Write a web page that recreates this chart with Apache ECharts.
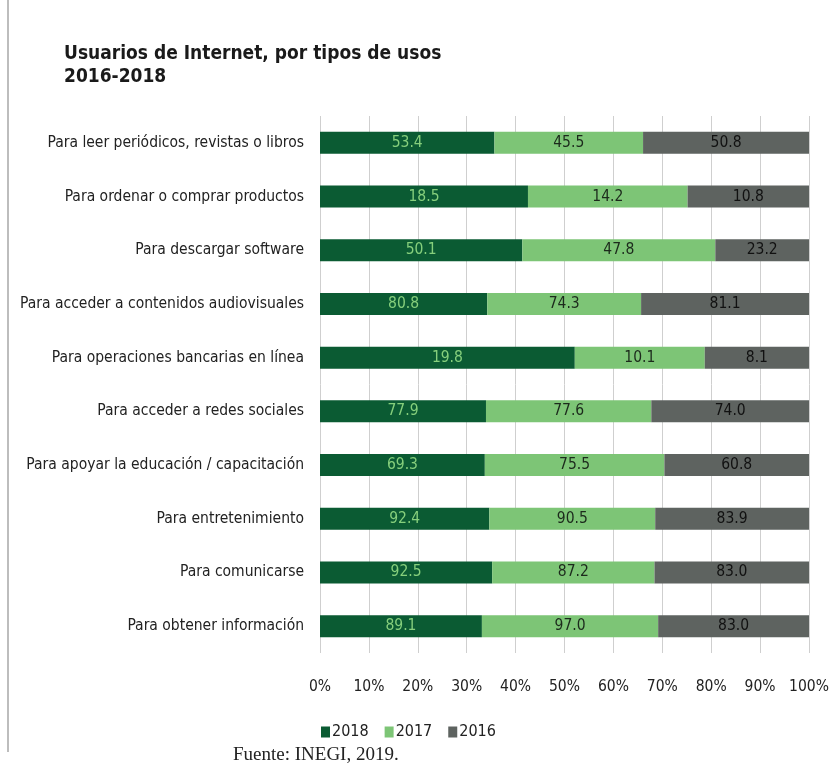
<!DOCTYPE html>
<html>
<head>
<meta charset="utf-8">
<script src="https://cdn.jsdelivr.net/npm/echarts@6/dist/echarts.min.js"></script>
<style>
  html, body { margin: 0; padding: 0; background: #fff; }
  #chart { width: 833px; height: 773px; }
</style>
</head>
<body>
<div id="chart"></div>
<script>
const categories = [
  "Para leer periódicos, revistas o libros",
  "Para ordenar o comprar productos",
  "Para descargar software",
  "Para acceder a contenidos audiovisuales",
  "Para operaciones bancarias en línea",
  "Para acceder a redes sociales",
  "Para apoyar la educación / capacitación",
  "Para entretenimiento",
  "Para comunicarse",
  "Para obtener información"
];
const years = ["2018", "2017", "2016"];
const v2018 = [53.4, 18.5, 50.1, 80.8, 19.8, 77.9, 69.3, 92.4, 92.5, 89.1];
const v2017 = [45.5, 14.2, 47.8, 74.3, 10.1, 77.6, 75.5, 90.5, 87.2, 97.0];
const v2016 = [50.8, 10.8, 23.2, 81.1, 8.1, 74.0, 60.8, 83.9, 83.0, 83.0];
const xTicks = ["0%", "10%", "20%", "30%", "40%", "50%", "60%", "70%", "80%", "90%", "100%"];

const FONT = "'Liberation Sans Narrow', 'DejaVu Sans Condensed', sans-serif";
const colors = ["#0b5b33", "#7dc576", "#5e6360"];
const labelColors = ["#86cf7c", "#1c2a1c", "#111"];
const raw = [v2018, v2017, v2016];
const totals = categories.map((_, i) => v2018[i] + v2017[i] + v2016[i]);

const chart = echarts.init(document.getElementById("chart"));
chart.setOption({
  animation: false,
  title: {
    text: "Usuarios de Internet, por tipos de usos\n2016-2018",
    left: 59,
    top: 38,
    textStyle: { fontFamily: FONT, fontSize: 19, fontWeight: "bold", color: "#1a1a1a", lineHeight: 23 }
  },
  grid: { left: 320, right: 24, top: 116, bottom: 120 },
  legend: {
    data: years,
    bottom: 28,
    left: 316,
    itemWidth: 9,
    itemHeight: 11,
    itemGap: 16,
    icon: "rect",
    textStyle: { fontFamily: FONT, fontSize: 16, color: "#222", padding: [0, 0, 0, -3] }
  },
  xAxis: {
    type: "value",
    min: 0,
    max: 100,
    interval: 10,
    axisLine: { show: false },
    axisTick: { show: false },
    splitLine: { show: true, lineStyle: { color: "#cfcfcf", width: 1 } },
    axisLabel: {
      fontFamily: FONT, fontSize: 15.5, color: "#222", margin: 26,
      formatter: (v) => xTicks[Math.round(v / 10)]
    }
  },
  yAxis: {
    type: "category",
    data: categories,
    inverse: true,
    axisLine: { show: false },
    axisTick: { show: false },
    axisLabel: { fontFamily: FONT, fontSize: 15.5, color: "#222", margin: 16 }
  },
  graphic: [
    { type: "line", shape: { x1: 8, y1: 0, x2: 8, y2: 752 }, style: { stroke: "#bdbdbd", lineWidth: 2 } },
    {
      type: "text", left: 233, top: 746,
      style: { text: "Fuente: INEGI, 2019.", font: "19px 'Liberation Serif', serif", fill: "#222" }
    }
  ],
  series: years.map((y, s) => ({
    name: y,
    type: "bar",
    stack: "total",
    barWidth: 22,
    itemStyle: { color: colors[s] },
    label: {
      show: true,
      position: "inside",
      fontFamily: FONT,
      fontSize: 15.5,
      color: labelColors[s],
      formatter: (p) => raw[s][p.dataIndex].toFixed(1)
    },
    data: raw[s].map((v, i) => (v / totals[i]) * 100)
  }))
});
</script>
</body>
</html>
